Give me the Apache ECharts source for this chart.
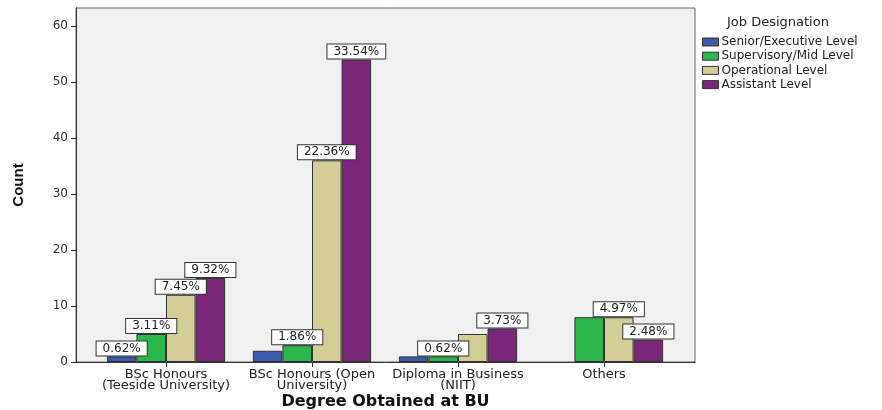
<!DOCTYPE html>
<html>
<head>
<meta charset="utf-8">
<script src="https://cdn.jsdelivr.net/npm/echarts@6/dist/echarts.min.js"></script>
<style>
  html, body { margin: 0; padding: 0; background: #ffffff; }
  #chart { width: 882px; height: 410px; }
</style>
</head>
<body>
<div id="chart"></div>
<script>
// Degree categories on the x axis
const categories = [
  'BSc Honours\n(Teeside University)',
  'BSc Honours (Open\nUniversity)',
  'Diploma in Business\n(NIIT)',
  'Others'
];

// Job designation groups and their counts per degree
const seriesNames = ['Senior/Executive Level', 'Supervisory/Mid Level', 'Operational Level', 'Assistant Level'];
const seniorCounts = [1, 2, 1, 0];
const supervisoryCounts = [5, 3, 1, 8];
const operationalCounts = [12, 36, 5, 8];
const assistantCounts = [15, 54, 6, 4];

// Which bars carry a percentage label
const seniorLabelled = [true, false, false, false];
const supervisoryLabelled = [true, true, true, false];
const operationalLabelled = [true, true, false, true];
const assistantLabelled = [true, true, true, true];

// Count axis ticks
const countTicks = [0, 10, 20, 30, 40, 50, 60];

const colors = ['#3d59ab', '#2bb84a', '#d3ce97', '#7b2779'];
const allCounts = [seniorCounts, supervisoryCounts, operationalCounts, assistantCounts];
const allLabelled = [seniorLabelled, supervisoryLabelled, operationalLabelled, assistantLabelled];
const total = allCounts.flat().reduce((a, b) => a + b, 0);

const yMax = 63.2;

const chart = echarts.init(document.getElementById('chart'), null, { renderer: 'canvas' });

const series = seriesNames.map((name, s) => ({
  name: name,
  type: 'bar',
  xAxisIndex: 1,
  yAxisIndex: 1,
  barGap: '0%',
  barCategoryGap: '19%',
  itemStyle: { color: colors[s], borderColor: '#333333', borderWidth: 1 },
  label: {
    position: 'top',
    distance: 1,
    formatter: p => (p.value / total * 100).toFixed(2) + '%',
    fontFamily: 'DejaVu Sans',
    fontSize: 12,
    lineHeight: 12,
    color: '#222222',
    backgroundColor: '#ffffff',
    borderColor: '#333333',
    borderWidth: 1,
    padding: [1, 6, 1, 6]
  },
  emphasis: { disabled: true },
  data: allCounts[s].map((v, i) => ({
    value: v,
    label: { show: allLabelled[s][i] },
    // an empty bar gets no outline
    itemStyle: v === 0 ? { borderWidth: 0 } : undefined
  }))
}));

chart.setOption({
  animation: false,
  title: {
    text: 'Job Designation',
    left: 722,
    top: 11,
    textStyle: { fontFamily: 'DejaVu Sans', fontSize: 13, fontWeight: 'normal', color: '#222222' }
  },
  legend: {
    orient: 'vertical',
    left: 697,
    top: 31,
    itemWidth: 16,
    itemHeight: 8,
    itemGap: 2.2,
    icon: 'rect',
    selectedMode: false,
    itemStyle: { borderColor: '#333333', borderWidth: 1 },
    textStyle: { fontFamily: 'DejaVu Sans', fontSize: 12, lineHeight: 9, color: '#222222', padding: [0, 0, 0, -2] },
    data: seriesNames
  },
  grid: [
    { left: 76, top: 8, width: 619, height: 354, show: true, backgroundColor: '#f0f0f0', borderColor: '#666666', borderWidth: 1, outerBoundsMode: 'none', containLabel: false },
    { left: 93, top: 8, width: 584, height: 354, outerBoundsMode: 'none', containLabel: false }
  ],
  xAxis: [
    {
      type: 'value', gridIndex: 0, min: 0, max: 1,
      axisLine: { show: true, lineStyle: { color: '#333333', width: 1 } },
      axisTick: { show: false }, axisLabel: { show: false }, splitLine: { show: false },
      name: 'Degree Obtained at BU',
      nameLocation: 'middle',
      nameGap: 32,
      nameTextStyle: { fontFamily: 'DejaVu Sans', fontWeight: 'bold', fontSize: 16, color: '#111111' }
    },
    {
      type: 'category', gridIndex: 1, data: categories,
      axisLine: { show: false },
      axisTick: { show: true, alignWithLabel: true, length: 5, lineStyle: { color: '#333333' } },
      axisLabel: { fontFamily: 'DejaVu Sans', fontSize: 13, lineHeight: 11, color: '#222222', margin: 7, interval: 0 },
      splitLine: { show: false }
    }
  ],
  yAxis: [
    {
      type: 'value', gridIndex: 0, min: 0, max: yMax, interval: 10,
      axisLine: { show: true, lineStyle: { color: '#333333', width: 1 } },
      axisTick: { show: true, length: 5, lineStyle: { color: '#333333' }, customValues: countTicks },
      axisLabel: { fontFamily: 'DejaVu Sans', fontSize: 12, color: '#333333', margin: 8, customValues: countTicks },
      splitLine: { show: false },
      name: 'Count',
      nameLocation: 'middle',
      nameRotate: 90,
      nameGap: 50,
      nameTextStyle: { fontFamily: 'Liberation Sans', fontWeight: 'bold', fontSize: 15, color: '#111111' }
    },
    {
      type: 'value', gridIndex: 1, min: 0, max: yMax, show: false, splitLine: { show: false }
    }
  ],
  series: series
});
</script>
</body>
</html>
